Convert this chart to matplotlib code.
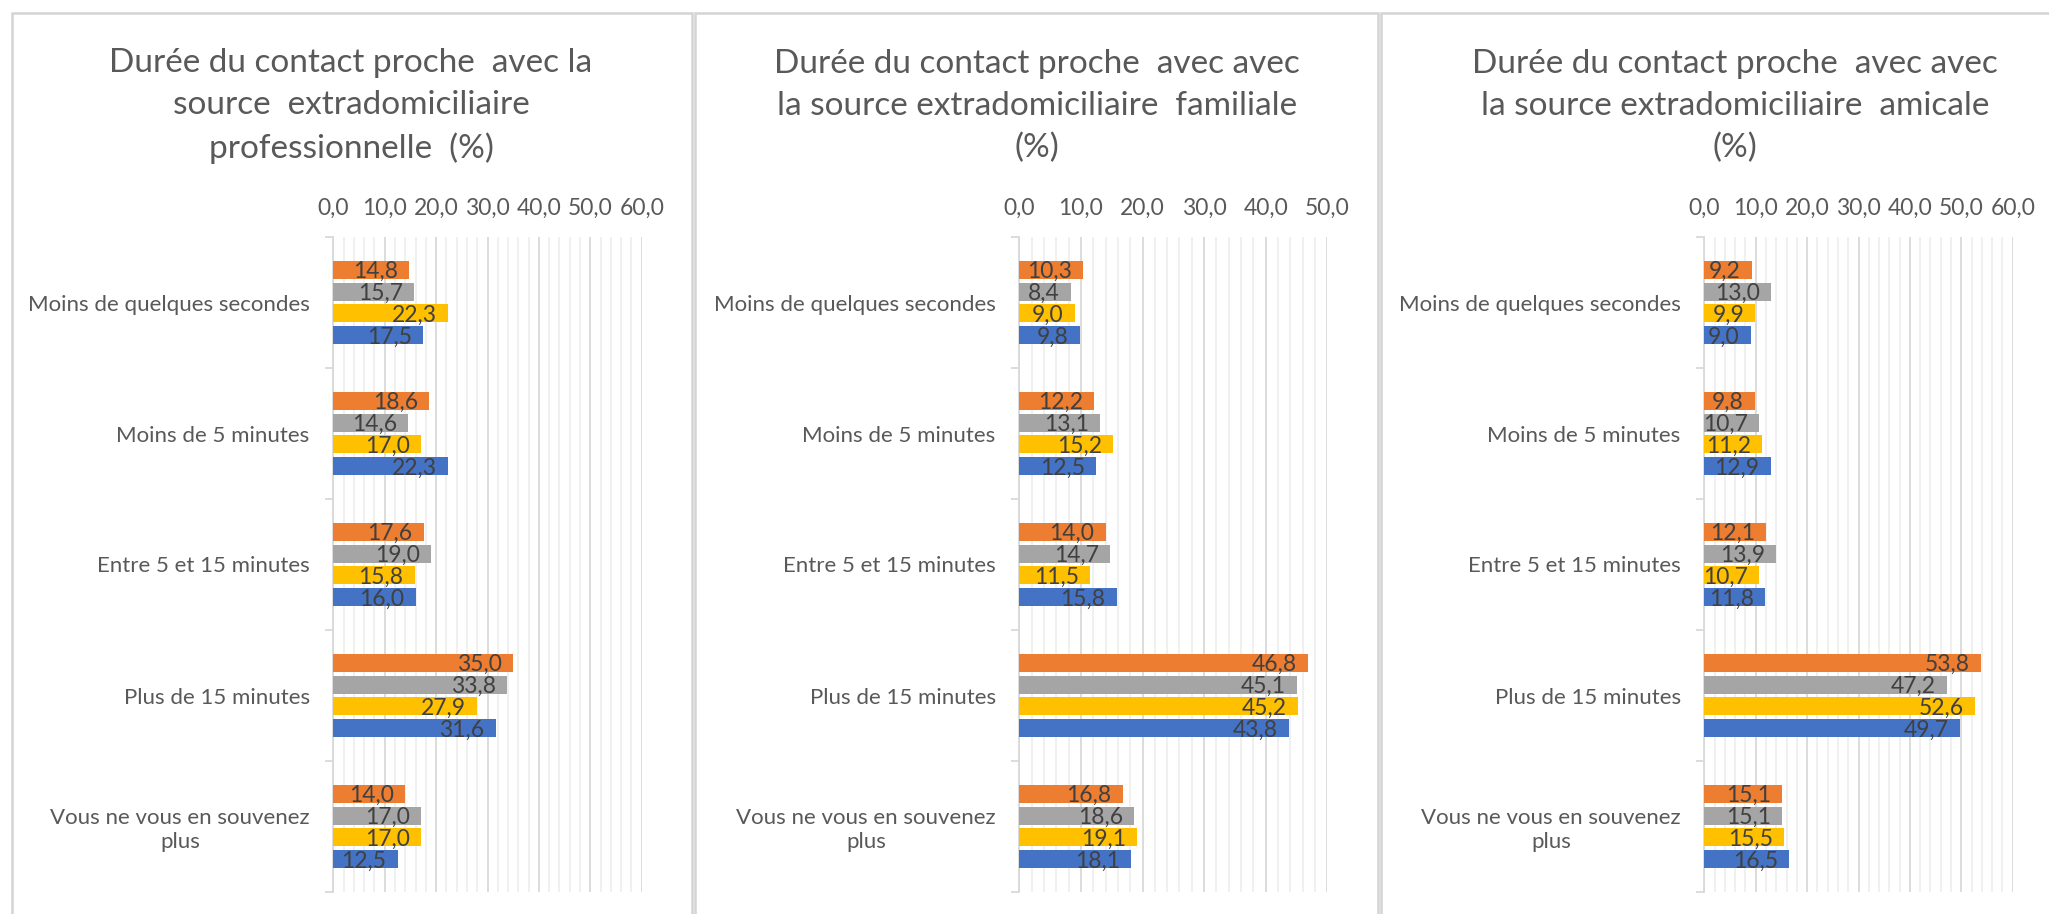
import matplotlib
matplotlib.use("Agg")
import matplotlib.pyplot as plt
from matplotlib.patches import Rectangle
from matplotlib.ticker import FuncFormatter, MultipleLocator
import numpy as np

plt.rcParams['font.family'] = ['Lato', 'DejaVu Sans']

# ---------------- data ----------------
categories = ["Moins de quelques secondes", "Moins de 5 minutes",
              "Entre 5 et 15 minutes", "Plus de 15 minutes",
              "Vous ne vous en souvenez\nplus"]

titles = ["Durée du contact proche  avec la\nsource  extradomiciliaire\nprofessionnelle  (%)",
          "Durée du contact proche  avec avec\nla source extradomiciliaire  familiale\n(%)",
          "Durée du contact proche  avec avec\nla source extradomiciliaire  amicale\n(%)"]

# panel 1 : professionnelle
pro_orange = [14.8, 18.6, 17.6, 35.0, 14.0]
pro_gray   = [15.7, 14.6, 19.0, 33.8, 17.0]
pro_yellow = [22.3, 17.0, 15.8, 27.9, 17.0]
pro_blue   = [17.5, 22.3, 16.0, 31.6, 12.5]
# panel 2 : familiale
fam_orange = [10.3, 12.2, 14.0, 46.8, 16.8]
fam_gray   = [8.4, 13.1, 14.7, 45.1, 18.6]
fam_yellow = [9.0, 15.2, 11.5, 45.2, 19.1]
fam_blue   = [9.8, 12.5, 15.8, 43.8, 18.1]
# panel 3 : amicale
ami_orange = [9.2, 9.8, 12.1, 53.8, 15.1]
ami_gray   = [13.0, 10.7, 13.9, 47.2, 15.1]
ami_yellow = [9.9, 11.2, 10.7, 52.6, 15.5]
ami_blue   = [9.0, 12.9, 11.8, 49.7, 16.5]

x_max = [60, 50, 60]

# ---------------- style ----------------
W, H = 2049, 914
fig = plt.figure(figsize=(W / 100, H / 100), dpi=100)
fig.patch.set_facecolor('white')

def fx(x):
    return x / W

def fy(y):
    return 1 - y / H

colors = ['#ED7D31', '#A5A5A5', '#FFC000', '#4472C4']
TXT = '#595959'
LBL = '#404040'

panels = [(12, 692), (695, 1378), (1381, 2100)]
axes_px = [(333.3, 641.7), (1019.3, 1327.3), (1704.3, 2012.7)]
title_cx = [351, 1037, 1735]
top_px, bot_px = 237, 892

data = [[pro_orange, pro_gray, pro_yellow, pro_blue],
        [fam_orange, fam_gray, fam_yellow, fam_blue],
        [ami_orange, ami_gray, ami_yellow, ami_blue]]

# panel borders
for (l, r) in panels:
    fig.patches.append(Rectangle((fx(l), fy(960)), fx(r) - fx(l), fy(13) - fy(960),
                                 transform=fig.transFigure, fill=False,
                                 edgecolor='#D4D4D4', linewidth=1.8, zorder=0))

slot = 21.8 / 131
bar_h = 18.0 / 131
offsets = [-1.5, -0.5, 0.5, 1.5]
ypos = np.arange(len(categories))

for k in range(3):
    l, r = axes_px[k]
    ax = fig.add_axes([fx(l), fy(bot_px), fx(r) - fx(l), fy(top_px) - fy(bot_px)])
    ax.set_xlim(0, x_max[k])
    ax.set_ylim(len(categories) - 0.5, -0.5)
    ax.set_facecolor('none')

    for s in range(4):
        vals = data[k][s]
        bars = ax.barh(ypos + offsets[s] * slot, vals, height=bar_h,
                       color=colors[s], zorder=3)
        for b, v in zip(bars, vals):
            ax.annotate(f"{v:.1f}".replace('.', ','),
                        xy=(b.get_width(), b.get_y() + b.get_height() / 2),
                        xytext=(-8, -6.0), textcoords='offset points',
                        ha='right', va='baseline', fontsize=16.5,
                        color=LBL, zorder=4)

    # grid
    ax.xaxis.set_major_locator(MultipleLocator(10))
    ax.xaxis.set_minor_locator(MultipleLocator(2))
    ax.grid(axis='x', which='major', color='#D9D9D9', linewidth=1.3, zorder=1)
    ax.grid(axis='x', which='minor', color='#EFEFEF', linewidth=1.3, zorder=1)
    ax.xaxis.tick_top()
    ax.xaxis.set_major_formatter(FuncFormatter(lambda v, p: f"{v:.1f}".replace('.', ',')))
    ax.tick_params(axis='x', which='both', length=0, pad=13, labelsize=16.5,
                   labelcolor=TXT)

    for sp in ['top', 'right', 'bottom']:
        ax.spines[sp].set_visible(False)
    ax.spines['left'].set_color('#D9D9D9')
    ax.spines['left'].set_linewidth(1.3)

    # category boundaries as major ticks, names as minor ticks
    ax.set_yticks(np.arange(-0.5, len(categories), 1.0))
    ax.set_yticklabels([])
    ax.tick_params(axis='y', which='major', length=5.5, width=1.3, color='#D9D9D9')
    ax.set_yticks(ypos, labels=categories, minor=True)
    ax.tick_params(axis='y', which='minor', length=0, pad=17, labelsize=16,
                   labelcolor=TXT)
    for t in ax.get_yticklabels(minor=True):
        t.set_multialignment('center')
        t.set_linespacing(1.2)

    fig.text(fx(title_cx[k]), fy(106), titles[k], ha='center', va='center',
             fontsize=24, color=TXT, linespacing=1.5)

fig.savefig('out.png', dpi=100)
